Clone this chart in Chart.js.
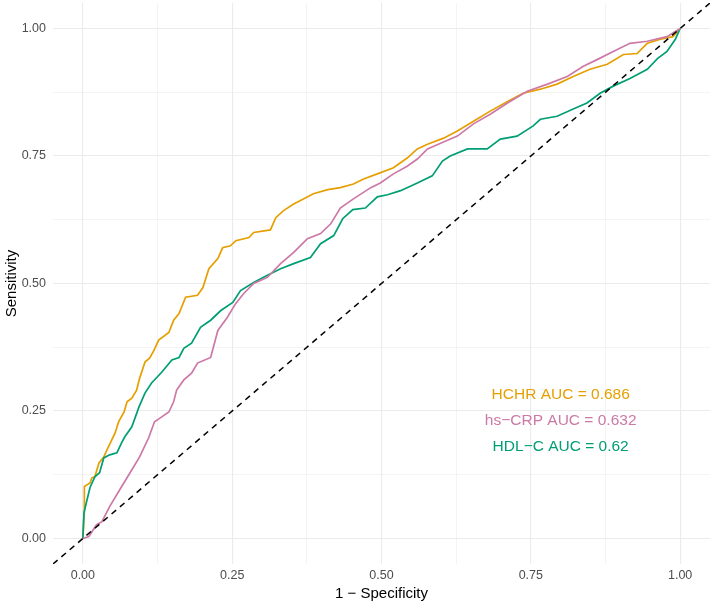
<!DOCTYPE html>
<html>
<head>
<meta charset="utf-8">
<script src="https://cdn.jsdelivr.net/npm/chart.js@4/dist/chart.umd.min.js"></script>
<style>
  html, body { margin: 0; padding: 0; background: #fff; }
  #wrap { width: 714px; height: 606px; }
</style>
</head>
<body>
<div id="wrap"><canvas id="roc"></canvas></div>
<script>
// ROC points (1 - specificity, sensitivity)
const hchrFpr = [0, 0.002, 0.002, 0.003, 0.012, 0.015, 0.020, 0.027, 0.035, 0.043,
  0.054, 0.060, 0.069, 0.074, 0.082, 0.090, 0.095, 0.104, 0.112, 0.119,
  0.127, 0.144, 0.152, 0.161, 0.172, 0.192, 0.201, 0.211, 0.226, 0.234,
  0.247, 0.256, 0.278, 0.286, 0.314, 0.323, 0.336, 0.353, 0.370, 0.386,
  0.410, 0.431, 0.453, 0.470, 0.493, 0.520, 0.543, 0.560, 0.577, 0.604,
  0.627, 0.654, 0.682, 0.711, 0.737, 0.766, 0.794, 0.821, 0.849, 0.878,
  0.905, 0.928, 0.945, 0.967, 0.988, 1.0];
const hchrTpr = [0, 0.051, 0.090, 0.102, 0.109, 0.119, 0.121, 0.148, 0.160, 0.180,
  0.207, 0.229, 0.248, 0.268, 0.275, 0.291, 0.314, 0.346, 0.354, 0.369,
  0.389, 0.404, 0.428, 0.441, 0.473, 0.477, 0.492, 0.529, 0.549, 0.570,
  0.574, 0.584, 0.590, 0.600, 0.605, 0.629, 0.643, 0.656, 0.666, 0.676,
  0.684, 0.688, 0.695, 0.705, 0.715, 0.727, 0.746, 0.764, 0.773, 0.785,
  0.799, 0.818, 0.838, 0.857, 0.873, 0.881, 0.891, 0.906, 0.920, 0.930,
  0.949, 0.951, 0.971, 0.979, 0.984, 1.0];

const crpFpr = [0, 0.010, 0.023, 0.032, 0.045, 0.062, 0.079, 0.095, 0.110, 0.120,
  0.129, 0.144, 0.152, 0.157, 0.169, 0.182, 0.192, 0.214, 0.226, 0.242,
  0.256, 0.269, 0.286, 0.309, 0.331, 0.353, 0.376, 0.398, 0.415, 0.431,
  0.453, 0.482, 0.498, 0.520, 0.543, 0.560, 0.577, 0.599, 0.627, 0.654,
  0.682, 0.711, 0.744, 0.778, 0.811, 0.838, 0.861, 0.888, 0.916, 0.945,
  0.978, 1.0];
const crpTpr = [0, 0.004, 0.027, 0.033, 0.063, 0.096, 0.129, 0.160, 0.197, 0.229,
  0.236, 0.248, 0.268, 0.291, 0.311, 0.324, 0.344, 0.355, 0.408, 0.434,
  0.461, 0.480, 0.500, 0.512, 0.539, 0.561, 0.588, 0.598, 0.617, 0.648,
  0.666, 0.688, 0.697, 0.715, 0.730, 0.744, 0.764, 0.775, 0.789, 0.813,
  0.832, 0.854, 0.877, 0.891, 0.906, 0.926, 0.939, 0.955, 0.971, 0.975,
  0.984, 1.0];

const hdlFpr = [0, 0.002, 0.007, 0.012, 0.020, 0.028, 0.035, 0.045, 0.057, 0.065,
  0.070, 0.082, 0.094, 0.104, 0.115, 0.132, 0.149, 0.161, 0.169, 0.182,
  0.197, 0.214, 0.231, 0.251, 0.264, 0.286, 0.309, 0.331, 0.353, 0.381,
  0.398, 0.420, 0.435, 0.452, 0.473, 0.493, 0.510, 0.532, 0.560, 0.585,
  0.602, 0.615, 0.644, 0.677, 0.699, 0.727, 0.754, 0.766, 0.794, 0.821,
  0.844, 0.866, 0.888, 0.916, 0.945, 0.962, 0.978, 0.992, 1.0];
const hdlTpr = [0, 0.051, 0.076, 0.100, 0.121, 0.129, 0.158, 0.164, 0.168, 0.188,
  0.199, 0.219, 0.258, 0.285, 0.305, 0.326, 0.350, 0.355, 0.373, 0.383,
  0.414, 0.428, 0.447, 0.463, 0.486, 0.502, 0.516, 0.529, 0.539, 0.551,
  0.578, 0.594, 0.627, 0.645, 0.648, 0.670, 0.674, 0.682, 0.697, 0.711,
  0.740, 0.750, 0.764, 0.764, 0.783, 0.789, 0.809, 0.822, 0.828, 0.842,
  0.854, 0.873, 0.887, 0.902, 0.920, 0.941, 0.955, 0.979, 1.0];

const seriesNames = ['HCHR', 'hs\u2212CRP', 'HDL\u2212C'];
const aucValues = ['0.686', '0.632', '0.62'];
const seriesColors = ['#E69F00', '#CC79A7', '#009E73'];

const tickValues = [0, 0.125, 0.25, 0.375, 0.5, 0.625, 0.75, 0.875, 1];
const labelledTicks = [0, 0.25, 0.5, 0.75, 1];

function toPoints(xs, ys) {
  return xs.map((x, i) => ({ x: x, y: ys[i] }));
}

function isMajor(v) {
  return labelledTicks.some(t => Math.abs(t - v) < 1e-9);
}

const FONT = '"Liberation Sans", Arial, sans-serif';

// AUC labels written inside the panel, placed in data units
const aucLabelPlugin = {
  id: 'aucLabels',
  afterDatasetsDraw(chart) {
    const ctx = chart.ctx;
    const xs = chart.scales.x;
    const ys = chart.scales.y;
    const labelY = [0.281, 0.230, 0.179];
    ctx.save();
    ctx.font = '15.5px ' + FONT;
    ctx.textAlign = 'center';
    ctx.textBaseline = 'middle';
    seriesNames.forEach((name, i) => {
      ctx.fillStyle = seriesColors[i];
      ctx.fillText(name + ' AUC = ' + aucValues[i], xs.getPixelForValue(0.80), ys.getPixelForValue(labelY[i]));
    });
    ctx.restore();
  }
};

function axisOptions(title) {
  return {
    type: 'linear',
    min: -0.05,
    max: 1.05,
    afterBuildTicks(scale) {
      scale.ticks = tickValues.map(v => ({ value: v }));
    },
    border: { display: false },
    grid: {
      drawTicks: false,
      color: '#EBEBEB',
      lineWidth: ctx => (ctx.tick && isMajor(ctx.tick.value) ? 1.1 : 0.55)
    },
    ticks: {
      autoSkip: false,
      maxRotation: 0,
      color: '#4D4D4D',
      font: { family: FONT, size: 12.5 },
      callback: v => (isMajor(v) ? v.toFixed(2) : '')
    },
    title: {
      display: true,
      text: title,
      color: '#000',
      font: { family: FONT, size: 15 }
    }
  };
}

// the panel is padded by 5% on each side, so no room is needed for end labels
const xAxis = axisOptions('1 \u2212 Specificity');
xAxis.ticks.padding = 4;
xAxis.title.padding = { top: 0, bottom: 3 };
xAxis.afterFit = scale => {
  scale.height = 42;
  scale.paddingLeft = 0;
  scale.paddingRight = 0;
};

const yAxis = axisOptions('Sensitivity');
yAxis.ticks.padding = 7;
yAxis.title.padding = { top: 3, bottom: 0 };
yAxis.afterFit = scale => {
  scale.width = 53;
  scale.paddingTop = 0;
  scale.paddingBottom = 0;
};

const curveSets = [
  toPoints(hchrFpr, hchrTpr),
  toPoints(crpFpr, crpTpr),
  toPoints(hdlFpr, hdlTpr)
];

const datasets = [{
  label: 'reference',
  data: [{ x: -0.05, y: -0.05 }, { x: 1.05, y: 1.05 }],
  borderColor: '#000',
  borderWidth: 1.5,
  borderDash: [6, 5],
  order: 0
}];
curveSets.forEach((pts, i) => {
  datasets.push({
    label: seriesNames[i],
    data: pts,
    borderColor: seriesColors[i],
    borderWidth: 1.7,
    order: [3, 1, 2][i]
  });
});

new Chart(document.getElementById('roc'), {
  type: 'line',
  data: { datasets: datasets },
  options: {
    responsive: true,
    maintainAspectRatio: false,
    animation: false,
    parsing: false,
    layout: { padding: { top: 3, right: 4, bottom: 0, left: 0 } },
    elements: {
      point: { radius: 0 },
      line: { tension: 0, fill: false }
    },
    plugins: {
      legend: { display: false },
      tooltip: { enabled: false }
    },
    scales: { x: xAxis, y: yAxis }
  },
  plugins: [aucLabelPlugin]
});
</script>
</body>
</html>
